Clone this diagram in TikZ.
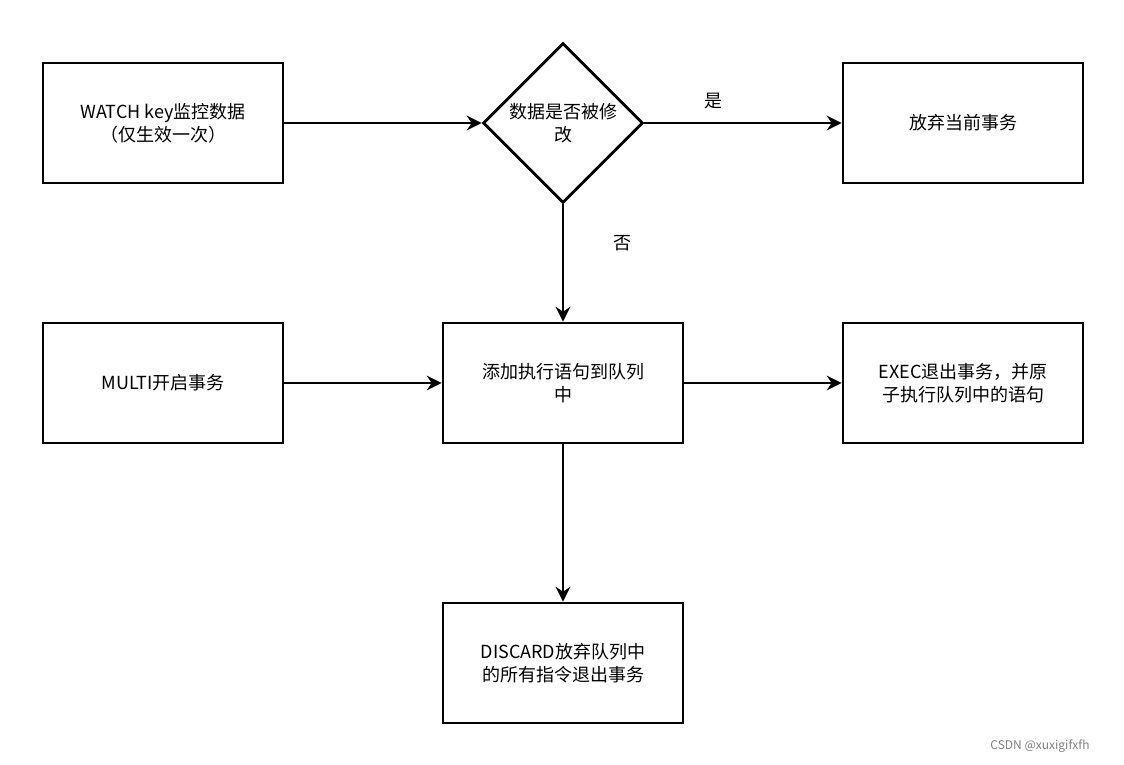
\documentclass[tikz,border=0pt]{standalone}
\usepackage{fontspec}
\setmainfont{Noto Sans CJK SC}
\usetikzlibrary{shapes.geometric,arrows.meta}
\begin{document}
\begin{tikzpicture}[x=0.75pt,y=-0.75pt,
  box/.style={draw,line width=2.2pt,minimum width=240*0.75pt,minimum height=120*0.75pt,align=center,font=\fontsize{13.5pt}{17pt}\selectfont,inner sep=0pt},
  arr/.style={line width=2.2pt,-{Stealth[length=11pt,width=11pt]}},
  lbl/.style={font=\fontsize{13.5pt}{17pt}\selectfont}]
\useasboundingbox (0,0) rectangle (1124,764);
\node[box] (w) at (163,123) {WATCH key监控数据\\（仅生效一次）};
\node[draw,line width=2.2pt,diamond,minimum width=160*0.75pt,minimum height=160*0.75pt,inner sep=0pt,aspect=1] (d) at (563,123) {};
\node[lbl,align=center] at (563,123) {数据是否被修\\改};
\node[box] (g) at (963,123) {放弃当前事务};
\node[box] (m) at (163,383) {MULTI开启事务};
\node[box] (a) at (563,383) {添加执行语句到队列\\中};
\node[box] (e) at (963,383) {EXEC退出事务，并原\\子执行队列中的语句};
\node[box] (x) at (563,663) {DISCARD放弃队列中\\的所有指令退出事务};
\draw[arr] (w) -- (d);
\draw[arr] (d) -- (g);
\draw[arr] (d) -- (a);
\draw[arr] (m) -- (a);
\draw[arr] (a) -- (e);
\draw[arr] (a) -- (x);
\node[lbl] (y) at (713,101) {是};
\node[lbl] (n) at (622,243) {否};
\node[font=\fontsize{9pt}{10pt}\selectfont,text=gray] (wm) at (1040,746) {CSDN @xuxigifxfh};
\end{tikzpicture}
\end{document}
